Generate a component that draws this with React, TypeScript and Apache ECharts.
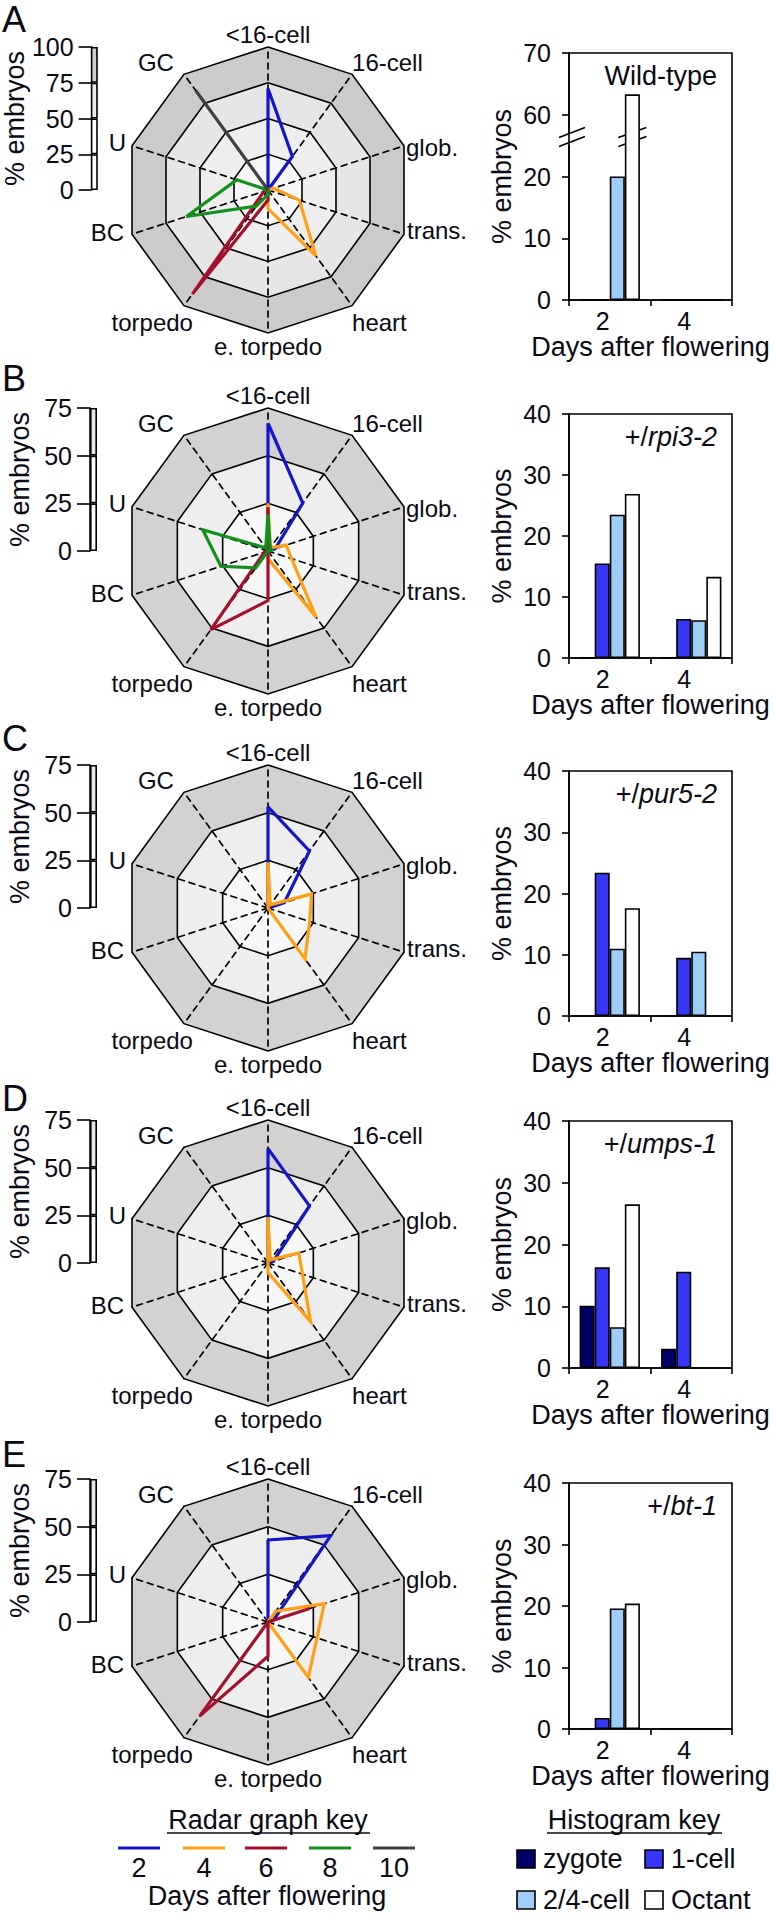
import React, { useEffect, useRef } from 'react';
import * as echarts from 'echarts';

const FONT = '"Liberation Sans", Arial, Helvetica, sans-serif';
const INK = '#0a0a14';

// ---------------- radar data (stages clockwise from the top) ----------------
const stages = ['<16-cell', '16-cell', 'glob.', 'trans.', 'heart', 'e. torpedo', 'torpedo', 'BC', 'U', 'GC'];
const radarDays = ['2', '4', '6', '8', '10'];
const radarDayColors = ['#1414c8', '#ffa014', '#a30f2d', '#12911a', '#404040'];

const wtRadar2 = [71, 29, 0, 0, 0, 0, 0, 0, 0, 0];
const wtRadar4 = [0, 0, 4, 23, 57, 13, 0, 0, 0, 0];
const wtRadar6 = [0, 0, 0, 0, 0, 7, 90, 3, 0, 0];
const wtRadar8 = [2, 0, 0, 0, 0, 3, 14, 60, 23, 0];
const wtRadar10 = [0, 0, 0, 0, 0, 0, 0, 0, 0, 86];

const rpiRadar2 = [67, 31, 4, 0, 0, 0, 0, 0, 0, 0];
const rpiRadar4 = [25, 2, 10, 13, 43, 4, 0, 0, 0, 0];
const rpiRadar6 = [23, 0, 0, 0, 0, 26, 51, 2, 0, 0];
const rpiRadar8 = [19, 2, 2, 0, 0, 0, 11, 26, 36, 2];

const purRadar2 = [53, 37, 9, 0, 0, 0, 0, 0, 0, 0];
const purRadar4 = [24, 2, 24, 23, 33, 0, 0, 0, 0, 0];

const umpsRadar2 = [60, 37, 3, 0, 0, 0, 0, 0, 0, 0];
const umpsRadar4 = [24, 2, 17, 19, 38, 5, 0, 0, 0, 0];

const btRadar2 = [43, 56, 3, 0, 0, 0, 0, 0, 0, 0];
const btRadar4 = [0, 7, 31, 27, 36, 0, 0, 0, 0, 0];
const btRadar6 = [0, 0, 23, 0, 0, 18, 61, 0, 0, 0];

const radarSets: (number[] | null)[][] = [
  [wtRadar2, wtRadar4, wtRadar6, wtRadar8, wtRadar10],
  [rpiRadar2, rpiRadar4, rpiRadar6, rpiRadar8, null],
  [purRadar2, purRadar4, null, null, null],
  [umpsRadar2, umpsRadar4, null, null, null],
  [btRadar2, btRadar4, btRadar6, null, null],
];
const radarMax = [100, 75, 75, 75, 75];
const radarStep = 25;

// ---------------- histogram data ----------------
const histDays = ['2', '4'];
const histStages = ['zygote', '1-cell', '2/4-cell', 'Octant'];
const histColors = ['#000066', '#3636f5', '#9dcdf8', '#ffffff'];

const wtZygote = [0, 0];
const wtOneCell = [0, 0];
const wtTwoFourCell = [20, 0];
const wtOctant = [63.3, 0];

const rpiZygote = [0, 0];
const rpiOneCell = [15.5, 6.4];
const rpiTwoFourCell = [23.5, 6.2];
const rpiOctant = [26.9, 13.3];

const purZygote = [0, 0];
const purOneCell = [23.4, 9.5];
const purTwoFourCell = [11.0, 10.5];
const purOctant = [17.6, 0];

const umpsZygote = [10.1, 3.1];
const umpsOneCell = [16.3, 15.6];
const umpsTwoFourCell = [6.6, 0];
const umpsOctant = [26.5, 0];

const btZygote = [0, 0];
const btOneCell = [1.8, 0];
const btTwoFourCell = [19.6, 0];
const btOctant = [20.4, 0];

const histSets = [
  [wtZygote, wtOneCell, wtTwoFourCell, wtOctant],
  [rpiZygote, rpiOneCell, rpiTwoFourCell, rpiOctant],
  [purZygote, purOneCell, purTwoFourCell, purOctant],
  [umpsZygote, umpsOneCell, umpsTwoFourCell, umpsOctant],
  [btZygote, btOneCell, btTwoFourCell, btOctant],
];
const histMax = 40;
const histInterval = 10;
// wild-type axis is broken: values above the break are shown shifted down by this amount
const wtBreakShift = 30;
const wtBreakAt = 26.4;

const panelLetters = ['A', 'B', 'C', 'D', 'E'];
const genotypePrefix = ['Wild-type', '+/', '+/', '+/', '+/'];
const genotypeAllele = ['', 'rpi3-2', 'pur5-2', 'umps-1', 'bt-1'];

// ---------------- layout ----------------
const RADAR_CX = 268;
const RADAR_R = 143;
const radarCY = [190, 551, 908, 1263, 1622];
const ringColors = [
  ['#f7f7f7', '#eeeeee', '#e6e6e6', '#cbcbcb'],
  ['#f7f7f7', '#eeeeee', '#d2d2d2'],
  ['#f7f7f7', '#eeeeee', '#d2d2d2'],
  ['#f7f7f7', '#eeeeee', '#d2d2d2'],
  ['#f7f7f7', '#eeeeee', '#d2d2d2'],
];
const scaleBandColors = [
  ['#ffffff', '#ffffff', '#ebebeb', '#cdcdcd'],
  ['#ffffff', '#ffffff', '#e6e6e6'],
  ['#ffffff', '#ffffff', '#e6e6e6'],
  ['#ffffff', '#ffffff', '#e6e6e6'],
  ['#ffffff', '#ffffff', '#e6e6e6'],
];
const SCALE_LEFT = 90;
const BAR_LEFT = 569;
const BAR_W = 163;
const barTop = [53, 414, 771, 1121, 1483];
const barH = [247, 244, 245, 247, 246];
const letterTop = [1, 360, 720, 1080, 1436];
const labelNudge: [number, number, string][] = [
  [0, -13, 'center'], [0, -12, 'left'], [2, 2, 'left'], [3, -4, 'left'], [0, 17, 'left'],
  [0, 13, 'center'], [9, 17, 'right'], [-8, -2, 'right'], [-6, -3, 'right'], [-10, -12, 'right'],
];
const LW = 1.6;

const txt = (text: string, x: number, y: number, size: number, align = 'left', valign = 'middle', extra: any = {}) => ({
  type: 'text', x, y, silent: true,
  style: {
    text, fill: INK, fontSize: size, fontFamily: FONT,
    align, verticalAlign: valign, textAlign: align, textVerticalAlign: valign, ...extra,
  },
});

function staticGraphics(): any[] {
  const els: any[] = [];
  radarCY.forEach((cy) => {
    stages.forEach((name, k) => {
      const a = ((90 - 36 * k) * Math.PI) / 180;
      const vx = RADAR_CX + RADAR_R * Math.cos(a);
      const vy = cy - RADAR_R * Math.sin(a);
      const [dx, dy, al] = labelNudge[k];
      els.push(txt(name, vx + dx, vy + dy, 24, al));
    });
  });
  panelLetters.forEach((l, p) => els.push(txt(l, 2, letterTop[p], 36, 'left', 'top')));
  barTop.forEach((top, p) => {
    if (genotypeAllele[p]) {
      els.push({
        type: 'text', x: 717, y: top + 23, silent: true,
        style: {
          text: `{n|${genotypePrefix[p]}}{i|${genotypeAllele[p]}}`,
          align: 'right', verticalAlign: 'middle', textAlign: 'right', textVerticalAlign: 'middle',
          rich: {
            n: { fontSize: 27, fontFamily: FONT, fill: INK, color: INK },
            i: { fontSize: 27, fontFamily: FONT, fontStyle: 'italic', fill: INK, color: INK },
          },
        },
      });
    } else {
      els.push(txt(genotypePrefix[p], 717, top + 23, 27, 'right'));
    }
  });
  // radar key
  els.push(txt('Radar graph key', 268, 1820, 27, 'center'));
  els.push({ type: 'line', silent: true, shape: { x1: 167, y1: 1833, x2: 370, y2: 1833 }, style: { stroke: INK, lineWidth: 1.6 } });
  const keyX = [139, 204, 266, 330, 394];
  radarDays.forEach((d, i) => {
    els.push({ type: 'line', silent: true, shape: { x1: keyX[i] - 21, y1: 1848, x2: keyX[i] + 21, y2: 1848 }, style: { stroke: radarDayColors[i], lineWidth: 3 } });
    els.push(txt(d, keyX[i], 1868, 27, 'center'));
  });
  els.push(txt('Days after flowering', 267, 1896, 27, 'center'));
  // histogram key
  els.push(txt('Histogram key', 634, 1820, 27, 'center'));
  els.push({ type: 'line', silent: true, shape: { x1: 547, y1: 1833, x2: 722, y2: 1833 }, style: { stroke: INK, lineWidth: 1.6 } });
  const hk = [[517, 1850], [645, 1850], [517, 1891], [645, 1891]];
  histStages.forEach((s, i) => {
    els.push({ type: 'rect', silent: true, shape: { x: hk[i][0], y: hk[i][1], width: 18, height: 18 }, style: { fill: histColors[i], stroke: '#000', lineWidth: LW } });
    els.push(txt(s, hk[i][0] + 26, hk[i][1] + 9, 27, 'left'));
  });
  return els;
}

function buildOption() {
  const grid: any[] = [];
  const xAxis: any[] = [];
  const yAxis: any[] = [];
  const series: any[] = [];
  const radar: any[] = [];
  const ecOrder = [0, 9, 8, 7, 6, 5, 4, 3, 2, 1];

  radarCY.forEach((cy, p) => {
    radar.push({
      center: [RADAR_CX, cy], radius: RADAR_R, startAngle: 90, shape: 'polygon',
      splitNumber: radarMax[p] / radarStep,
      indicator: ecOrder.map((k) => ({ name: stages[k], min: 0, max: radarMax[p] })),
      axisName: { show: false },
      axisLine: { lineStyle: { color: '#000', width: 1.7, type: [6, 5] } },
      splitLine: { lineStyle: { color: '#000', width: 1.6 } },
      splitArea: { show: true, areaStyle: { color: ringColors[p] } },
      axisTick: { show: false },
      axisLabel: { show: false },
    });
    series.push({
      type: 'radar', radarIndex: p, symbol: 'none', silent: true,
      data: radarSets[p]
        .map((vals, d) => vals ? {
          name: radarDays[d],
          value: ecOrder.map((k) => vals[k]),
          lineStyle: { color: radarDayColors[d], width: 3.2, join: 'miter' },
          itemStyle: { color: radarDayColors[d] },
        } : null)
        .filter(Boolean),
    });
  });

  const axisLine = { show: true, lineStyle: { color: '#000', width: LW } };
  const axisTick = (len: number) => ({ show: true, length: len, lineStyle: { color: '#000', width: LW } });

  barTop.forEach((top, p) => {
    grid.push({ left: BAR_LEFT, top, width: BAR_W, height: barH[p], show: true, borderColor: '#000', borderWidth: LW, backgroundColor: '#fff' });
    xAxis.push({
      type: 'category', gridIndex: p, data: histDays,
      axisLine, axisTick: axisTick(6),
      axisLabel: { color: INK, fontSize: 25, fontFamily: FONT, margin: 8, padding: [0, 14, 0, 0] },
      name: 'Days after flowering', nameLocation: 'middle', nameGap: 32,
      nameTextStyle: { color: INK, fontSize: 27, fontFamily: FONT },
    });
    yAxis.push({
      type: 'value', gridIndex: p, min: 0, max: histMax, interval: histInterval,
      axisLine, axisTick: axisTick(7), splitLine: { show: false },
      axisLabel: {
        color: INK, fontSize: 25, fontFamily: FONT, margin: 18,
        formatter: p === 0 ? (v: number) => String(v >= wtBreakShift ? v + wtBreakShift : v) : undefined,
      },
      name: '% embryos', nameLocation: 'middle', nameRotate: 90, nameGap: 54,
      nameTextStyle: { color: INK, fontSize: 27, fontFamily: FONT },
    });
    histSets[p].forEach((vals, s) => {
      series.push({
        type: 'bar', name: histStages[s], xAxisIndex: p, yAxisIndex: p, silent: true,
        data: vals.map((v) => (p === 0 && v > histMax ? v - wtBreakShift : v)),
        barGap: '0%', barCategoryGap: '26%',
        itemStyle: { color: histColors[s], borderColor: '#000', borderWidth: LW },
      });
    });
  });

  radarCY.forEach((cy, p) => {
    const gi = 5 + p;
    grid.push({ left: SCALE_LEFT, top: cy - RADAR_R, width: 7, height: RADAR_R });
    xAxis.push({ type: 'category', gridIndex: gi, data: ['scale'], show: false });
    yAxis.push({
      type: 'value', gridIndex: gi, min: 0, max: radarMax[p], interval: radarStep,
      axisLine, axisTick: axisTick(13), splitLine: { show: false },
      axisLabel: { color: INK, fontSize: 25, fontFamily: FONT, margin: 18 },
      name: '% embryos', nameLocation: 'middle', nameRotate: 90, nameGap: 57,
      nameTextStyle: { color: INK, fontSize: 27, fontFamily: FONT },
    });
    scaleBandColors[p].forEach((c) => {
      series.push({
        type: 'bar', xAxisIndex: gi, yAxisIndex: gi, stack: 'scale' + p, silent: true,
        data: [radarStep], barWidth: 7,
        itemStyle: { color: c, borderColor: '#000', borderWidth: LW },
      });
    });
  });

  return {
    animation: false,
    backgroundColor: '#fff',
    textStyle: { fontFamily: FONT },
    grid, xAxis, yAxis, radar, series,
    graphic: staticGraphics(),
  };
}

export default function App() {
  const ref = useRef<HTMLDivElement>(null);
  useEffect(() => {
    document.body.style.margin = '0';
    const chart = echarts.init(ref.current!, null, { renderer: 'svg' });
    chart.setOption(buildOption() as any);

    // axis-break marks on the wild-type histogram
    const breakEls: any[] = [];
    try {
      const yb = chart.convertToPixel({ yAxisIndex: 0 } as any, wtBreakAt) as unknown as number;
      let barCx = BAR_LEFT + 63;
      try {
        const octIdx = 5 + 3;
        const lay = (chart as any).getModel().getSeriesByIndex(octIdx).getData().getItemLayout(0);
        if (lay) barCx = lay.x + lay.width / 2;
      } catch (e) { /* keep fallback */ }
      [[BAR_LEFT + 3, 13], [barCx, 14]].forEach(([cx, w]) => {
        breakEls.push({
          type: 'polygon', silent: true,
          shape: { points: [[cx - w, yb + 5 - 5], [cx + w, yb - 5 - 5], [cx + w, yb - 5 + 7], [cx - w, yb + 5 + 7]] },
          style: { fill: '#fff' },
        });
        [-4.5, 4.5].forEach((off) => {
          breakEls.push({
            type: 'line', silent: true,
            shape: { x1: cx - w, y1: yb + 5 + off, x2: cx + w, y2: yb - 5 + off },
            style: { stroke: '#000', lineWidth: LW },
          });
        });
      });
    } catch (e) { /* ignore */ }
    chart.setOption({ graphic: [...staticGraphics(), ...breakEls] } as any);
    return () => chart.dispose();
  }, []);
  return <div ref={ref} style={{ width: 775, height: 1915 }} />;
}
